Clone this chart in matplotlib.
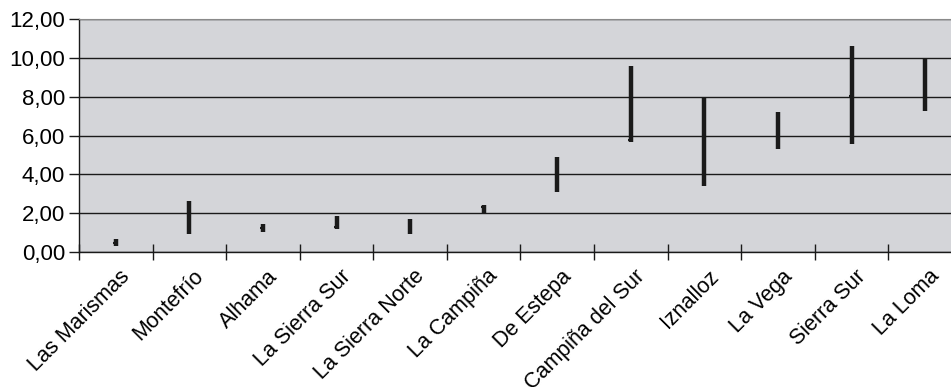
import numpy as np
import matplotlib.pyplot as plt
from matplotlib.ticker import FuncFormatter

comarcas = ['Las Marismas', 'Montefrío', 'Alhama', 'La Sierra Sur', 'La Sierra Norte',
            'La Campiña', 'De Estepa', 'Campiña del Sur', 'Iznalloz', 'La Vega',
            'Sierra Sur', 'La Loma']
maximo = [0.65, 2.64, 1.44, 1.87, 1.70, 2.42, 4.88, 9.59, 7.91, 7.19, 10.62, 9.94]
minimo = [0.33, 0.93, 1.01, 1.18, 0.91, 2.02, 3.07, 5.65, 3.41, 5.30, 5.56, 7.28]
cierre = [0.45, 1.05, 1.25, 1.30, 1.43, 2.33, 3.19, 5.77, 5.99, 6.40, 8.03, 8.31]

plt.rcParams['font.family'] = ['Liberation Sans', 'DejaVu Sans']

fig = plt.figure(figsize=(9.51, 3.87), dpi=100)
ax = fig.add_axes([79 / 951, 1 - 252 / 387, 883 / 951, 233 / 387])
ax.set_facecolor('#d4d5d9')

x = np.arange(len(comarcas))
ax.vlines(x, minimo, maximo, color='#1a1a1a', lw=3.2, zorder=3)
ax.plot(x + 0.02, cierre, ls='none', marker=0, ms=3, mew=1.5, color='#1a1a1a', zorder=4)

ax.set_xlim(-0.5, len(comarcas) - 0.5)
ax.set_ylim(0, 12)
ax.set_yticks(np.arange(0, 13, 2))
ax.yaxis.set_major_formatter(FuncFormatter(lambda v, p: f'{v:.2f}'.replace('.', ',')))
ax.grid(axis='y', color='#1a1a1a', lw=1.0)
ax.set_axisbelow(True)

# category boundaries carry the ticks, names sit between them
ax.set_xticks(np.arange(len(comarcas) + 1) - 0.5)
ax.set_xticklabels([])
ax.set_xticks(x + 0.05, minor=True)
ax.set_xticklabels(comarcas, minor=True, rotation=45, ha='right', rotation_mode='anchor',
                   fontsize=15.5)
ax.tick_params(axis='x', which='major', direction='inout', length=12, width=1, color='#1a1a1a')
ax.tick_params(axis='x', which='minor', length=0, pad=10)
ax.tick_params(axis='y', direction='out', length=7, width=1, color='#1a1a1a', labelsize=16, pad=3)

for s in ['left', 'bottom']:
    ax.spines[s].set_color('#1a1a1a')
    ax.spines[s].set_linewidth(1.0)
ax.spines['top'].set_color('#8a8a8a')
ax.spines['right'].set_visible(False)

fig.savefig('out.png', dpi=100, facecolor='white')
